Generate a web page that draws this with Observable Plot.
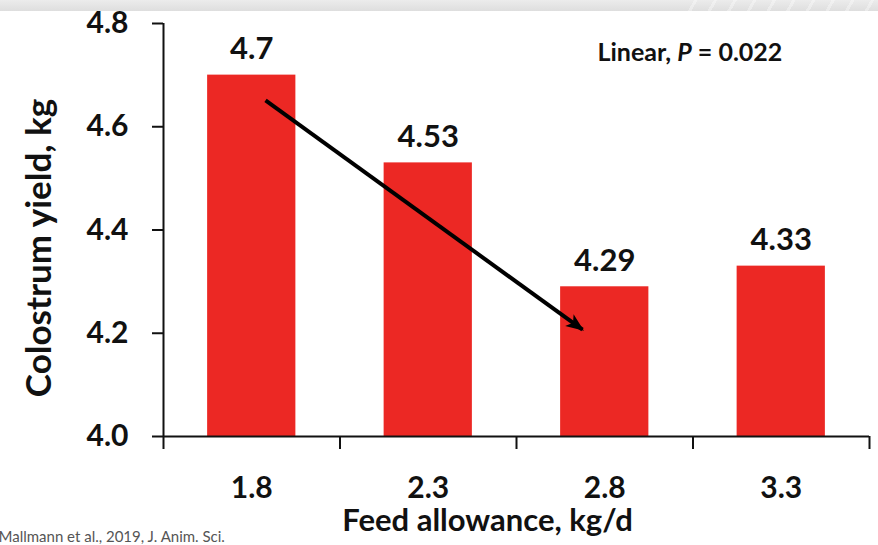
<!DOCTYPE html>
<html>
<head>
<meta charset="utf-8">
<script src="https://cdn.jsdelivr.net/npm/d3@7"></script>
<script src="https://cdn.jsdelivr.net/npm/@observablehq/plot@0.6"></script>
<style>
  html, body { margin: 0; padding: 0; background: #fff; }
  #wrap { position: relative; width: 878px; height: 545px; overflow: hidden; font-family: Lato, "Open Sans", sans-serif; }
  #band {
    position: absolute; left: 0; top: 0; width: 878px; height: 11px;
    background:
      repeating-linear-gradient(120deg, rgba(255,255,255,0) 0 14px, rgba(255,255,255,0.35) 14px 17px) right / 200px 11px no-repeat,
      linear-gradient(#ececec, #dedede);
  }
  svg { display: block; }
</style>
</head>
<body>
<div id="wrap"><div id="band"></div></div>
<script>
// Colostrum yield by daily feed allowance
const feed = [1.8, 2.3, 2.8, 3.3];
const yieldKg = [4.7, 4.53, 4.29, 4.33];
const yTicks = [4.0, 4.2, 4.4, 4.6, 4.8];
const bandEdges = [1.55, 2.05, 2.55, 3.05, 3.55];
const barHalfWidth = 0.125;

// Downward trend arrow, in data units [feed, yield]
const trendFrom = [1.839, 4.651];
const trendTo = [2.737, 4.207];

const yTitle = "Colostrum yield, kg";
const xTitle = "Feed allowance, kg/d";
const statNote = "Linear, P = 0.022";
const source = "Mallmann et al., 2019, J. Anim. Sci.";

const data = feed.map((f, i) => ({feed: f, yield: yieldKg[i]}));
const trend = [{x1: trendFrom[0], y1: trendFrom[1], x2: trendTo[0], y2: trendTo[1]}];

// filled arrowhead for the trend line
function stealth(color, context) {
  const ns = "http://www.w3.org/2000/svg";
  const m = context.document.createElementNS(ns, "marker");
  m.setAttribute("viewBox", "-5 -5 10 10");
  m.setAttribute("markerUnits", "userSpaceOnUse");
  m.setAttribute("markerWidth", 18);
  m.setAttribute("markerHeight", 18);
  m.setAttribute("refX", 4);
  m.setAttribute("orient", "auto");
  const p = context.document.createElementNS(ns, "path");
  p.setAttribute("d", "M-5,-4L5,0L-5,4L-2.5,0Z");
  p.setAttribute("fill", color);
  p.setAttribute("stroke", "none");
  m.appendChild(p);
  return m;
}

const font = "Lato, 'Open Sans', sans-serif";

const chart = Plot.plot({
  width: 878,
  height: 545,
  marginLeft: 163,
  marginRight: 9,
  marginTop: 23,
  marginBottom: 109,
  style: {fontFamily: font, color: "#111", background: "transparent", overflow: "visible"},
  x: {domain: [bandEdges[0], bandEdges[bandEdges.length - 1]], axis: null},
  y: {domain: [yTicks[0], yTicks[yTicks.length - 1]], axis: null},
  marks: [
    Plot.rectY(data, {
      x1: d => d.feed - barHalfWidth,
      x2: d => d.feed + barHalfWidth,
      y1: yTicks[0],
      y2: "yield",
      fill: "#ec2824"
    }),
    Plot.text(data, {
      x: "feed", y: "yield", text: d => String(d.yield),
      dy: -26, fontSize: 31, fontWeight: "bold", fill: "#111"
    }),
    Plot.axisY({
      ticks: yTicks, tickFormat: d => d.toFixed(1), tickSize: 11, tickPadding: 24,
      strokeWidth: 2, fontSize: 30, fontWeight: "bold", label: null
    }),
    Plot.axisX({
      ticks: feed, tickFormat: d => d.toFixed(1), tickSize: 0, tickPadding: 40,
      fontSize: 30, fontWeight: "bold", label: null
    }),
    Plot.axisX({
      ticks: bandEdges, tickFormat: () => "", tickSize: 13, strokeWidth: 2, label: null
    }),
    Plot.ruleX([bandEdges[0]], {stroke: "#111", strokeWidth: 2}),
    Plot.ruleY([yTicks[0]], {stroke: "#111", strokeWidth: 2}),
    Plot.link(trend, {
      x1: "x1", y1: "y1", x2: "x2", y2: "y2",
      stroke: "#000", strokeWidth: 4, markerEnd: stealth
    }),
    Plot.text([statNote], {
      frameAnchor: "top-right", textAnchor: "start", lineAnchor: "middle", dx: -272, dy: 29,
      fontSize: 25, fontWeight: "bold", fill: "#111"
    }),
    Plot.text([yTitle], {
      frameAnchor: "left", textAnchor: "middle", lineAnchor: "middle", rotate: -90, dx: -124, dy: 18,
      fontSize: 35, fontWeight: "bold", fill: "#111"
    }),
    Plot.text([xTitle], {
      frameAnchor: "bottom", textAnchor: "middle", lineAnchor: "middle", dx: -29, dy: 85,
      fontSize: 31, fontWeight: "bold", fill: "#111"
    }),
    Plot.text([source], {
      frameAnchor: "bottom-left", textAnchor: "start", lineAnchor: "middle", dx: -165, dy: 101,
      fontSize: 15, fill: "#555"
    })
  ]
});

// italic P in the statistics note
d3.select(chart).selectAll("text")
  .filter(function () { return this.textContent === statNote; })
  .each(function () {
    const t = d3.select(this);
    const [pre, post] = statNote.split("P");
    t.text(null);
    t.append("tspan").text(pre);
    t.append("tspan").attr("font-style", "italic").text("P");
    t.append("tspan").text(post);
  });

document.getElementById("wrap").appendChild(chart);
</script>
</body>
</html>
